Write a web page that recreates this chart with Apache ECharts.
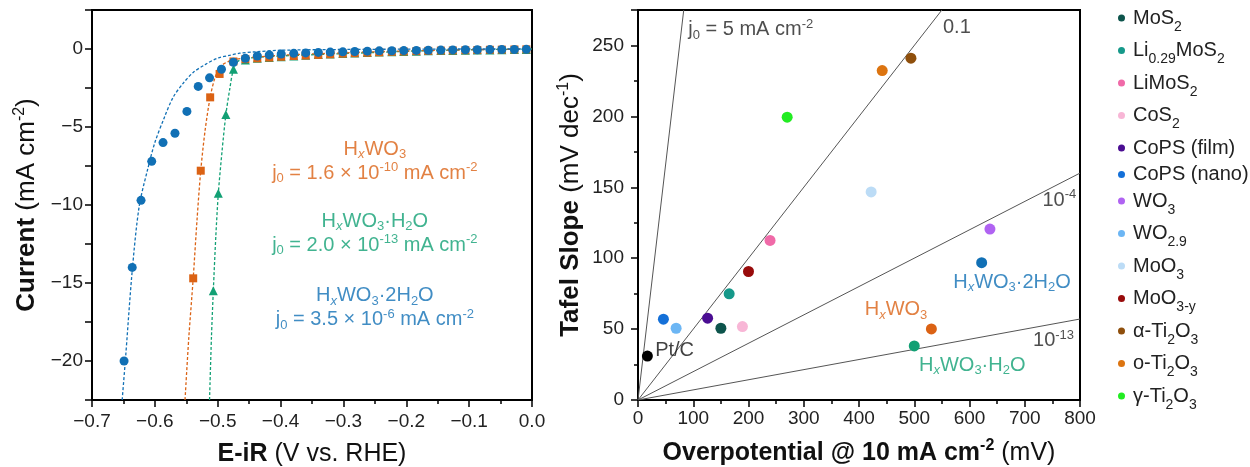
<!DOCTYPE html>
<html>
<head>
<meta charset="utf-8">
<script src="https://cdn.jsdelivr.net/npm/echarts@6/dist/echarts.min.js"></script>
<style>
  html, body { margin: 0; padding: 0; background: #fff; }
  #chart { width: 1250px; height: 467px; }
</style>
</head>
<body>
<div id="chart"></div>
<script>
// ---- left panel: LSV curves (V vs RHE, mA cm-2) ----
const potential2H2O = [-0.649, -0.636, -0.622, -0.605, -0.587, -0.568, -0.549, -0.531, -0.513, -0.494, -0.475,
  -0.456, -0.437, -0.418, -0.399, -0.379, -0.360, -0.340, -0.321, -0.301, -0.282, -0.262, -0.243,
  -0.223, -0.204, -0.184, -0.165, -0.145, -0.126, -0.106, -0.087, -0.067, -0.048, -0.028, -0.009];
const current2H2O = [-20.0, -14.0, -9.7, -7.2, -6.0, -5.4, -4.0, -2.4, -1.85, -1.3, -0.85,
  -0.6, -0.45, -0.38, -0.32, -0.28, -0.25, -0.22, -0.2, -0.18, -0.16, -0.14, -0.12,
  -0.11, -0.1, -0.09, -0.08, -0.07, -0.06, -0.05, -0.05, -0.04, -0.03, -0.03, -0.02];

const potentialHWO = [-0.539, -0.527, -0.512, -0.497, -0.475,
  -0.456, -0.437, -0.418, -0.399, -0.379, -0.360, -0.340, -0.321, -0.301, -0.282, -0.262, -0.243,
  -0.223, -0.204, -0.184, -0.165, -0.145, -0.126, -0.106, -0.087, -0.067, -0.048, -0.028, -0.009];
const currentHWO = [-14.7, -7.8, -3.1, -1.6, -0.8,
  -0.65, -0.6, -0.55, -0.5, -0.45, -0.42, -0.38, -0.34, -0.3, -0.27, -0.24, -0.21,
  -0.18, -0.16, -0.14, -0.12, -0.1, -0.09, -0.08, -0.07, -0.05, -0.04, -0.03, -0.02];

const potentialH2O = [-0.507, -0.499, -0.487, -0.475,
  -0.456, -0.437, -0.418, -0.399, -0.379, -0.360, -0.340, -0.321, -0.301, -0.282, -0.262, -0.243,
  -0.223, -0.204, -0.184, -0.165, -0.145, -0.126, -0.106, -0.087, -0.067, -0.048, -0.028, -0.009];
const currentH2O = [-15.5, -9.25, -4.2, -1.3,
  -0.7, -0.6, -0.55, -0.5, -0.45, -0.4, -0.36, -0.32, -0.29, -0.26, -0.23, -0.2,
  -0.18, -0.16, -0.14, -0.12, -0.1, -0.09, -0.08, -0.07, -0.06, -0.05, -0.04, -0.03];

// fitted curves
const fitPotential2H2O = [-0.652, -0.647, -0.636, -0.625, -0.612, -0.600, -0.585, -0.571, -0.555, -0.539,
  -0.520, -0.501, -0.480, -0.465, -0.440, -0.400, -0.300, -0.200, -0.100, 0];
const fitCurrent2H2O = [-22.5, -20.0, -14.2, -10.1, -7.8, -6.0, -4.4, -3.1, -2.2, -1.5,
  -1.0, -0.6, -0.4, -0.27, -0.18, -0.08, -0.03, -0.01, 0, 0];
const fitPotentialHWO = [-0.552, -0.546, -0.539, -0.533, -0.527, -0.520, -0.512, -0.504, -0.495, -0.480,
  -0.460, -0.400, -0.300, -0.200, -0.100, 0];
const fitCurrentHWO = [-22.5, -18.5, -14.7, -11.0, -7.8, -5.2, -3.1, -1.8, -1.1, -0.75,
  -0.6, -0.4, -0.25, -0.12, -0.05, 0];
const fitPotentialH2O = [-0.513, -0.510, -0.507, -0.503, -0.499, -0.493, -0.487, -0.481, -0.475, -0.468,
  -0.455, -0.400, -0.300, -0.200, -0.100, 0];
const fitCurrentH2O = [-22.5, -18.5, -15.5, -12.0, -9.25, -6.5, -4.2, -2.6, -1.3, -0.8,
  -0.6, -0.45, -0.3, -0.15, -0.05, 0];

// ---- right panel: Tafel slope vs overpotential ----
const materials = ['MoS2', 'Li0.29MoS2', 'LiMoS2', 'CoS2', 'CoPS (film)', 'CoPS (nano)', 'WO3',
  'WO2.9', 'MoO3', 'MoO3-y', 'α-Ti2O3', 'o-Ti2O3', 'γ-Ti2O3'];
const materialEta = [150, 165, 239, 189, 126, 46, 637, 69, 422, 200, 494, 442, 270];
const materialSlope = [50.6, 74.9, 112.5, 51.8, 57.7, 57, 120.5, 50.6, 146.7, 90.6, 241, 232.3, 199.4];

const ptcPoint = [17, 31];
const oursNames = ['HxWO3·2H2O', 'HxWO3', 'HxWO3·H2O'];
const oursEta = [622, 531, 500];
const oursSlope = [96.8, 50.1, 38.1];

// reference Tafel lines (j0 = 5, 0.1, 1e-4, 1e-13 mA cm-2), end points
const tafelLines = [
  [[0, 0], [82.8, 275]],
  [[0, 0], [550, 275]],
  [[0, 0], [800, 160]],
  [[0, 0], [800, 57.1]]
];

const materialColors = ['#0d544c', '#16998a', '#f06aa8', '#f8b6d6', '#4a0d92', '#1470d8', '#b063f2',
  '#6cb6f4', '#bcdcf6', '#980b0b', '#8f4f0c', '#dc7410', '#22ec22'];
const BLUE = '#1170b5', ORANGE = '#db6214', GREEN = '#12a074';
const FONT = '"Liberation Sans", Arial, sans-serif';

const zip = (a, b) => a.map((v, i) => [v, b[i]]);
const minus = s => String(s).replace('-', '\u2212');

const rich = {
  n: {},
  i: { fontStyle: 'italic', fontSize: 13, verticalAlign: 'bottom', lineHeight: 24 },
  sub: { fontSize: 13, verticalAlign: 'bottom', lineHeight: 24 },
  sup: { fontSize: 13, verticalAlign: 'top', lineHeight: 24 },
  b: { fontWeight: 'bold' },
  tsup: { fontSize: 16, verticalAlign: 'top', lineHeight: 30 },
  bsup: { fontWeight: 'bold', fontSize: 16, verticalAlign: 'top', lineHeight: 30 }
};

const legendRich = {
  t: { fontSize: 20, lineHeight: 24 },
  s: { fontSize: 14, verticalAlign: 'bottom', lineHeight: 24, padding: [0, 0, -4, 0] }
};
const legendText = {
  'MoS2': '{t|MoS}{s|2}',
  'Li0.29MoS2': '{t|Li}{s|0.29}{t|MoS}{s|2}',
  'LiMoS2': '{t|LiMoS}{s|2}',
  'CoS2': '{t|CoS}{s|2}',
  'CoPS (film)': '{t|CoPS (film)}',
  'CoPS (nano)': '{t|CoPS (nano)}',
  'WO3': '{t|WO}{s|3}',
  'WO2.9': '{t|WO}{s|2.9}',
  'MoO3': '{t|MoO}{s|3}',
  'MoO3-y': '{t|MoO}{s|3-y}',
  'α-Ti2O3': '{t|α-Ti}{s|2}{t|O}{s|3}',
  'o-Ti2O3': '{t|o-Ti}{s|2}{t|O}{s|3}',
  'γ-Ti2O3': '{t|γ-Ti}{s|2}{t|O}{s|3}'
};

// text annotations anchored in data coordinates
const leftNotes = [
  { at: [-0.25, -7.2], color: ORANGE,
    text: '{n|H}{i|x}{n|WO}{sub|3}\n{n|j}{sub|0}{n| = 1.6 × 10}{sup|-10}{n| mA cm}{sup|-2}' },
  { at: [-0.25, -11.8], color: GREEN,
    text: '{n|H}{i|x}{n|WO}{sub|3}{n|·H}{sub|2}{n|O}\n{n|j}{sub|0}{n| = 2.0 × 10}{sup|-13}{n| mA cm}{sup|-2}' },
  { at: [-0.25, -16.6], color: BLUE,
    text: '{n|H}{i|x}{n|WO}{sub|3}{n|·2H}{sub|2}{n|O}\n{n|j}{sub|0}{n| = 3.5 × 10}{sup|-6}{n| mA cm}{sup|-2}' }
];
const rightNotes = [
  { at: [677, 83], color: BLUE, align: 'center', text: '{n|H}{i|x}{n|WO}{sub|3}{n|·2H}{sub|2}{n|O}' },
  { at: [467, 63.5], color: ORANGE, align: 'center', text: '{n|H}{i|x}{n|WO}{sub|3}' },
  { at: [605, 24.5], color: GREEN, align: 'center', text: '{n|H}{i|x}{n|WO}{sub|3}{n|·H}{sub|2}{n|O}' },
  { at: [91, 261], color: '#222', align: 'left', text: '{n|j}{sub|0}{n| = 5 mA cm}{sup|-2}' },
  { at: [552, 263], color: '#222', align: 'left', text: '{n|0.1}' },
  { at: [732, 141], color: '#222', align: 'left', text: '{n|10}{sup|-4}' },
  { at: [715, 42], color: '#222', align: 'left', text: '{n|10}{sup|-13}' },
  { at: [31, 35], color: '#111', align: 'left', text: '{n|Pt/C}' }
];

const chart = echarts.init(document.getElementById('chart'));

const axisCommon = {
  axisLine: { show: true, onZero: false, lineStyle: { color: '#000', width: 2 } },
  axisTick: { show: true, inside: false, length: 7, lineStyle: { color: '#000', width: 1.5 } },
  minorTick: { show: true, splitNumber: 2, length: 4, lineStyle: { color: '#000', width: 1.5 } },
  splitLine: { show: false },
  nameLocation: 'middle'
};
const xName = { fontFamily: FONT, fontSize: 25, color: '#111', rich: rich };
const yName = { fontFamily: FONT, fontSize: 26, color: '#111', rich: rich };

function noteSeries(notes, xi, yi) {
  return {
    type: 'scatter', xAxisIndex: xi, yAxisIndex: yi, symbolSize: 0, silent: true, z: 10,
    data: notes.map(n => ({
      value: n.at,
      label: {
        show: true, position: [0, 0], align: n.align || 'center', verticalAlign: 'middle',
        formatter: n.text, color: n.color, fontFamily: FONT, fontSize: 20, lineHeight: 24, rich: rich
      }
    }))
  };
}

const series = [];
// left: fit lines
[[fitPotentialH2O, fitCurrentH2O, GREEN], [fitPotentialHWO, fitCurrentHWO, ORANGE],
 [fitPotential2H2O, fitCurrent2H2O, BLUE]].forEach(([x, y, c]) => {
  series.push({
    type: 'line', xAxisIndex: 0, yAxisIndex: 0, data: zip(x, y), showSymbol: false, smooth: 0.3,
    lineStyle: { color: c, width: 1.3, type: [3, 2] }, silent: true, z: 2
  });
});
series.push({ type: 'scatter', xAxisIndex: 0, yAxisIndex: 0, data: zip(potentialH2O, currentH2O),
  symbol: 'triangle', symbolSize: 9, itemStyle: { color: GREEN, opacity: 1 }, z: 3 });
series.push({ type: 'scatter', xAxisIndex: 0, yAxisIndex: 0, data: zip(potentialHWO, currentHWO),
  symbol: 'rect', symbolSize: 8, itemStyle: { color: ORANGE, opacity: 1 }, z: 4 });
series.push({ type: 'scatter', xAxisIndex: 0, yAxisIndex: 0, data: zip(potential2H2O, current2H2O),
  symbol: 'circle', symbolSize: 9, itemStyle: { color: BLUE, opacity: 1 }, z: 5 });
series.push(noteSeries(leftNotes, 0, 0));

// right: Tafel reference lines
tafelLines.forEach(l => {
  series.push({ type: 'line', xAxisIndex: 1, yAxisIndex: 1, data: l, showSymbol: false, silent: true,
    lineStyle: { color: '#555', width: 1 }, z: 2 });
});
materials.forEach((m, i) => {
  series.push({ type: 'scatter', name: m, xAxisIndex: 1, yAxisIndex: 1, symbolSize: 11,
    data: [[materialEta[i], materialSlope[i]]], itemStyle: { color: materialColors[i], opacity: 1 }, z: 4 });
});
series.push({ type: 'scatter', xAxisIndex: 1, yAxisIndex: 1, symbolSize: 11, data: [ptcPoint],
  itemStyle: { color: '#000', opacity: 1 }, z: 4 });
[BLUE, ORANGE, GREEN].forEach((c, i) => {
  series.push({ type: 'scatter', name: oursNames[i], xAxisIndex: 1, yAxisIndex: 1, symbolSize: 11,
    data: [[oursEta[i], oursSlope[i]]], itemStyle: { color: c, opacity: 1 }, z: 4 });
});
series.push(noteSeries(rightNotes, 1, 1));

chart.setOption({
  animation: false,
  textStyle: { fontFamily: FONT },
  grid: [
    { left: 92, top: 10, width: 440, height: 390, show: true, borderColor: '#000', borderWidth: 2,
      containLabel: false, outerBoundsMode: 'none' },
    { left: 638, top: 10, width: 442, height: 390, show: true, borderColor: '#000', borderWidth: 2,
      containLabel: false, outerBoundsMode: 'none' }
  ],
  xAxis: [
    Object.assign({}, axisCommon, {
      type: 'value', gridIndex: 0, min: -0.7, max: 0, interval: 0.1,
      name: '{b|E-iR} {n|(V vs. RHE)}', nameGap: 42, nameTextStyle: xName,
      axisLabel: { margin: 12, fontSize: 19, color: '#222', fontFamily: FONT,
        formatter: v => minus(v.toFixed(1)) }
    }),
    Object.assign({}, axisCommon, {
      type: 'value', gridIndex: 1, min: 0, max: 800, interval: 100,
      name: '{b|Overpotential @ 10 mA cm}{bsup|-2}{n| (mV)}', nameGap: 38, nameTextStyle: xName,
      axisLabel: { margin: 9, fontSize: 19, color: '#222', fontFamily: FONT }
    })
  ],
  yAxis: [
    Object.assign({}, axisCommon, {
      type: 'value', gridIndex: 0, min: -22.5, max: 2.5, interval: 2.5,
      minorTick: { show: false },
      name: '{b|Current} {n|(mA cm}{tsup|-2}{n|)}', nameGap: 50, nameTextStyle: yName,
      axisLabel: { margin: 9, fontSize: 19, color: '#222', fontFamily: FONT,
        formatter: v => (Math.abs(v % 5) < 1e-6 ? minus(Math.round(v)) : '') }
    }),
    Object.assign({}, axisCommon, {
      type: 'value', gridIndex: 1, min: 0, max: 275, interval: 50,
      name: '{b|Tafel Slope} {n|(mV dec}{tsup|-1}{n|)}', nameGap: 52, nameTextStyle: yName,
      axisLabel: { margin: 14, fontSize: 19, color: '#222', fontFamily: FONT,
        formatter: v => (v % 50 === 0 ? String(v) : '') }
    })
  ],
  legend: {
    data: materials, orient: 'vertical', left: 1113, top: 3, itemGap: 6.5,
    icon: 'circle', itemWidth: 7, itemHeight: 7, selectedMode: false,
    formatter: name => legendText[name],
    textStyle: { color: '#222', fontFamily: FONT, fontSize: 20, padding: [0, 0, 0, 3], rich: legendRich }
  },
  series: series
});
</script>
</body>
</html>
